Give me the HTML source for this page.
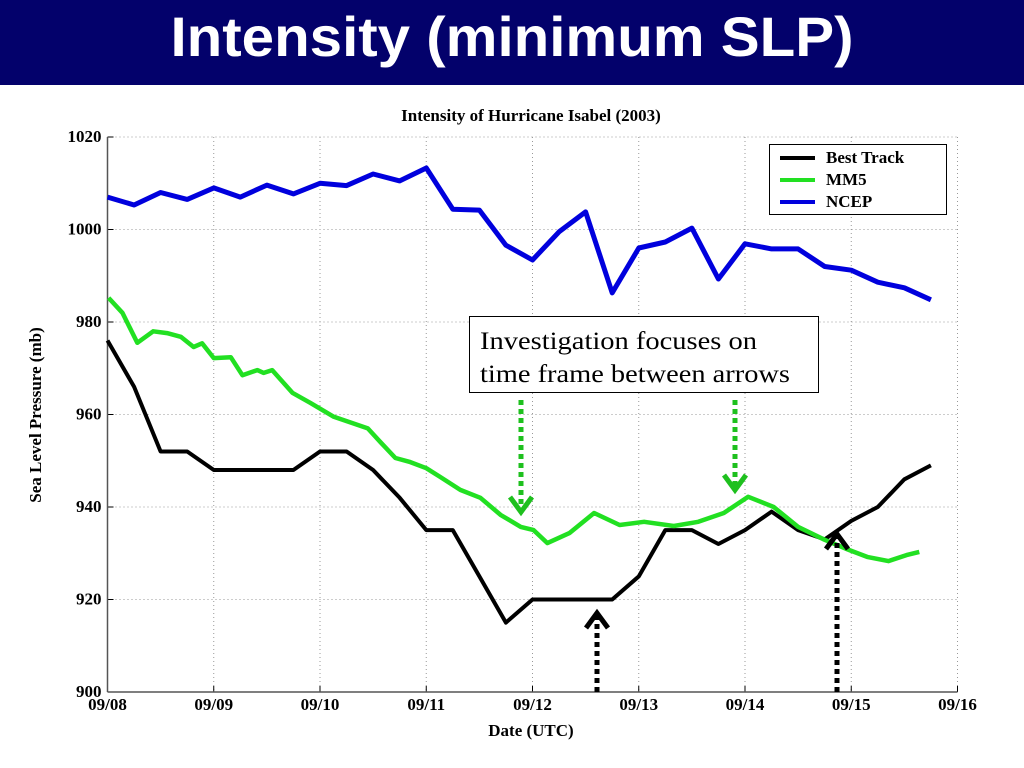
<!DOCTYPE html>
<html><head><meta charset="utf-8">
<style>
html,body{margin:0;padding:0;background:#fff;width:1024px;height:768px;overflow:hidden}
#bar{position:absolute;left:0;top:0;width:1024px;height:85px;background:#03016b}
svg{position:absolute;left:0;top:0}
</style></head>
<body>
<div id="bar"></div>
<svg id="chart" width="1024" height="768" xmlns="http://www.w3.org/2000/svg">
<text x="512" y="56" fill="#fff" font-family="Liberation Sans, sans-serif" font-weight="bold" font-size="56" text-anchor="middle" textLength="683" lengthAdjust="spacingAndGlyphs">Intensity (minimum SLP)</text>
<text x="531" y="121" font-family="Liberation Serif, serif" font-weight="bold" font-size="17" text-anchor="middle">Intensity of Hurricane Isabel (2003)</text>
<text x="531" y="736" font-family="Liberation Serif, serif" font-weight="bold" font-size="17" text-anchor="middle">Date (UTC)</text>
<text transform="translate(41,415) rotate(-90)" font-family="Liberation Serif, serif" font-weight="bold" font-size="17" text-anchor="middle">Sea Level Pressure (mb)</text>
<g id="grid"></g><g id="axes"></g><g id="series"></g>
<g>
<rect x="769.5" y="144.5" width="177" height="70" fill="#fff" stroke="#000" stroke-width="1"/>
<line x1="780" y1="158" x2="815" y2="158" stroke="#000" stroke-width="4"/>
<line x1="780" y1="180" x2="815" y2="180" stroke="#22e022" stroke-width="4"/>
<line x1="780" y1="202" x2="815" y2="202" stroke="#0000dd" stroke-width="4"/>
<text x="826" y="163" font-family="Liberation Serif, serif" font-weight="bold" font-size="17">Best Track</text>
<text x="826" y="185" font-family="Liberation Serif, serif" font-weight="bold" font-size="17">MM5</text>
<text x="826" y="207" font-family="Liberation Serif, serif" font-weight="bold" font-size="17">NCEP</text>
</g>
<g>
<rect x="469.5" y="316.5" width="349" height="76" fill="#fff" stroke="#000" stroke-width="1"/>
<text x="480" y="349" font-family="Liberation Serif, serif" font-size="25" textLength="277" lengthAdjust="spacingAndGlyphs">Investigation focuses on</text>
<text x="480" y="382" font-family="Liberation Serif, serif" font-size="25" textLength="310" lengthAdjust="spacingAndGlyphs">time frame between arrows</text>
</g>
<g fill="none" stroke-width="5">
<line x1="521" y1="400" x2="521" y2="510" stroke="#1ec01e" stroke-dasharray="5,4"/>
<polyline points="510,497 521,512 532,497" stroke="#1ec01e"/>
<line x1="735" y1="400" x2="735" y2="488" stroke="#1ec01e" stroke-dasharray="5,4"/>
<polyline points="724,475 735,490 746,475" stroke="#1ec01e"/>
<line x1="597" y1="692" x2="597" y2="615" stroke="#000" stroke-dasharray="5,4"/>
<polyline points="586,628 597,613 608,628" stroke="#000"/>
<line x1="837" y1="692" x2="837" y2="536" stroke="#000" stroke-dasharray="5,4"/>
<polyline points="826,549 837,534 848,549" stroke="#000"/>
</g>
</svg>
<script>
const xTickLabels = ["09/08","09/09","09/10","09/11","09/12","09/13","09/14","09/15","09/16"];
const yTicks = [900,920,940,960,980,1000,1020];
const bestTrack = [976,966,952,952,948,948,948,948,952,952,948,942,935,935,925,915,920,920,920,920,925,935,935,932,935,939,935,933,937,940,946,949];
const ncep = [1007,1005.3,1008,1006.5,1009,1007,1009.6,1007.7,1010,1009.5,1012,1010.5,1013.3,1004.4,1004.2,996.6,993.4,999.5,1003.8,986.3,996,997.3,1000.3,989.3,996.9,995.8,995.8,992,991.2,988.6,987.4,984.8];
const mm5Days = [0.01,0.14,0.28,0.43,0.56,0.69,0.81,0.89,1.0,1.16,1.27,1.41,1.47,1.55,1.74,1.91,2.13,2.45,2.57,2.71,2.85,3.0,3.13,3.32,3.51,3.70,3.89,4.01,4.14,4.35,4.58,4.82,5.05,5.33,5.56,5.80,6.03,6.27,6.50,6.75,6.98,7.15,7.35,7.52,7.64];
const mm5 = [985.2,982,975.5,978,977.6,976.8,974.6,975.4,972.2,972.4,968.5,969.6,969,969.6,964.7,962.5,959.5,957,954,950.6,949.7,948.4,946.5,943.7,942,938.3,935.7,935,932.2,934.4,938.7,936.1,936.8,935.9,936.8,938.7,942.2,940,935.7,932.9,930.7,929.2,928.3,929.6,930.3];
const X0=107.5, DX=106.25, Y0=692, YTOP=137;
const xs = d => X0 + d*DX;
const ys = v => Y0 - (v-900)*(Y0-YTOP)/120;
const NS="http://www.w3.org/2000/svg";
function mk(tag, attrs, parent){const e=document.createElementNS(NS,tag);for(const k in attrs)e.setAttribute(k,attrs[k]);parent.appendChild(e);return e;}
const grid=document.getElementById('grid'), axes=document.getElementById('axes'), ser=document.getElementById('series');
xTickLabels.forEach((t,i)=>{
  const x=xs(i);
  if(i>0){const l=mk('line',{x1:x,y1:YTOP,x2:x,y2:Y0,stroke:'#999','stroke-width':1,'stroke-dasharray':'1,3'},grid);
  
  }
  mk('line',{x1:x,y1:Y0,x2:x,y2:Y0-6,stroke:'#000','stroke-width':1},axes);
  const tx=mk('text',{x:x,y:Y0+18,'text-anchor':'middle','font-family':'Liberation Serif, serif','font-weight':'bold','font-size':17},axes);
  tx.textContent=t;
  
  
});
yTicks.forEach(v=>{
  const y=ys(v);
  if(v>900){const l=mk('line',{x1:X0,y1:y,x2:xs(8),y2:y,stroke:'#999','stroke-width':1,'stroke-dasharray':'1,3'},grid);
  
  }
  mk('line',{x1:X0,y1:y,x2:X0+6,y2:y,stroke:'#000','stroke-width':1},axes);
  const tx=mk('text',{x:X0-6,y:y+5,'text-anchor':'end','font-family':'Liberation Serif, serif','font-weight':'bold','font-size':17},axes);
  tx.textContent=v;
  
  
});
mk('line',{x1:X0,y1:YTOP,x2:X0,y2:Y0,stroke:'#555','stroke-width':1.5},axes);
mk('line',{x1:X0,y1:Y0,x2:xs(8),y2:Y0,stroke:'#555','stroke-width':1.5},axes);
function line(vals, days, color, w, name){
  const pts=vals.map((v,i)=>xs(days?days[i]:i*0.25).toFixed(1)+','+ys(v).toFixed(1)).join(' ');
  const p=mk('polyline',{points:pts,fill:'none',stroke:color,'stroke-width':w,'stroke-linejoin':'round'},ser);
  
  
}
line(ncep,null,'#0000dd',5,'ncep-line');
line(bestTrack,null,'#000',4,'best-track-line');
line(mm5,mm5Days,'#22e022',4.5,'mm5-line');
</script>
</body></html>
